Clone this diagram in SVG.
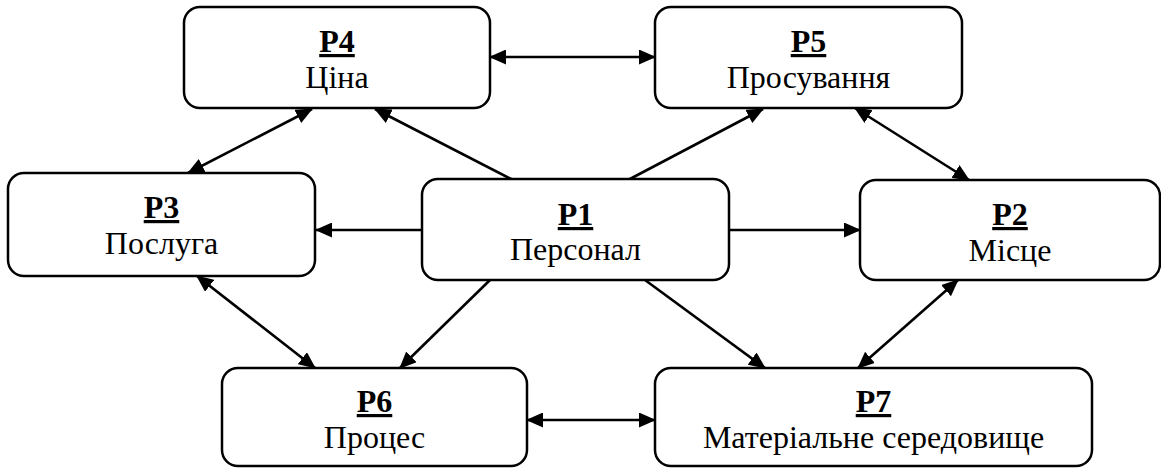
<svg xmlns="http://www.w3.org/2000/svg" width="1161" height="468" viewBox="0 0 1161 468">
  <style>
    .box { fill: #ffffff; stroke: #000000; stroke-width: 2.5; }
    .link { stroke: #000000; stroke-width: 2.6; fill: none; }
    .one { marker-end: url(#head); }
    .two { marker-start: url(#head); marker-end: url(#head); }
  </style>
  <defs>
    <marker id="head" markerUnits="userSpaceOnUse" markerWidth="17" markerHeight="15" refX="16" refY="7.5" orient="auto-start-reverse">
      <path d="M0,0 L17,7.5 L0,15 Z" fill="#000"/>
    </marker>
  </defs>
  <rect width="1161" height="468" fill="#ffffff"/>

  <!-- connectors: single-headed and double-headed arrows -->
  <g id="connectors">
    <line class="link two" x1="490" y1="57" x2="655" y2="57"/>
    <line class="link two" x1="188" y1="173" x2="312" y2="109"/>
    <line class="link one" x1="513" y1="180" x2="375" y2="109"/>
    <line class="link one" x1="628" y1="180" x2="763" y2="109"/>
    <line class="link two" x1="855" y1="108" x2="969" y2="180"/>
    <line class="link one" x1="422" y1="230" x2="316" y2="230"/>
    <line class="link one" x1="729" y1="230" x2="860" y2="230"/>
    <line class="link two" x1="197" y1="276" x2="315" y2="368"/>
    <line class="link one" x1="490" y1="280" x2="400" y2="368"/>
    <line class="link one" x1="645" y1="280" x2="765" y2="368"/>
    <line class="link two" x1="958" y1="280" x2="858" y2="368"/>
    <line class="link two" x1="527" y1="420" x2="655" y2="420"/>
  </g>

  <g id="p4">
    <rect class="box" x="184" y="7" width="306" height="101" rx="16"/>
    <text x="337" y="52" font-family="Liberation Serif, Times New Roman, DejaVu Serif, serif" font-size="32" font-weight="bold" text-decoration="underline" text-anchor="middle">P4</text>
    <text x="337" y="88" font-family="Liberation Serif, Times New Roman, DejaVu Serif, serif" font-size="32" text-anchor="middle">Ціна</text>
  </g>
  <g id="p5">
    <rect class="box" x="655" y="7" width="307" height="101" rx="16"/>
    <text x="808.5" y="52" font-family="Liberation Serif, Times New Roman, DejaVu Serif, serif" font-size="32" font-weight="bold" text-decoration="underline" text-anchor="middle">P5</text>
    <text x="808.5" y="88" font-family="Liberation Serif, Times New Roman, DejaVu Serif, serif" font-size="32" text-anchor="middle">Просування</text>
  </g>
  <g id="p3">
    <rect class="box" x="8" y="173" width="307" height="103" rx="16"/>
    <text x="161.5" y="218" font-family="Liberation Serif, Times New Roman, DejaVu Serif, serif" font-size="32" font-weight="bold" text-decoration="underline" text-anchor="middle">P3</text>
    <text x="161.5" y="254" font-family="Liberation Serif, Times New Roman, DejaVu Serif, serif" font-size="32" text-anchor="middle">Послуга</text>
  </g>
  <g id="p1">
    <rect class="box" x="422" y="179" width="307" height="101" rx="16"/>
    <text x="575.5" y="225" font-family="Liberation Serif, Times New Roman, DejaVu Serif, serif" font-size="32" font-weight="bold" text-decoration="underline" text-anchor="middle">P1</text>
    <text x="575.5" y="260" font-family="Liberation Serif, Times New Roman, DejaVu Serif, serif" font-size="32" text-anchor="middle">Персонал</text>
  </g>
  <g id="p2">
    <rect class="box" x="860" y="180" width="300" height="100" rx="16"/>
    <text x="1010" y="225" font-family="Liberation Serif, Times New Roman, DejaVu Serif, serif" font-size="32" font-weight="bold" text-decoration="underline" text-anchor="middle">P2</text>
    <text x="1010" y="261" font-family="Liberation Serif, Times New Roman, DejaVu Serif, serif" font-size="32" text-anchor="middle">Місце</text>
  </g>
  <g id="p6">
    <rect class="box" x="222" y="368" width="305" height="98" rx="16"/>
    <text x="374.5" y="412" font-family="Liberation Serif, Times New Roman, DejaVu Serif, serif" font-size="32" font-weight="bold" text-decoration="underline" text-anchor="middle">P6</text>
    <text x="374.5" y="448" font-family="Liberation Serif, Times New Roman, DejaVu Serif, serif" font-size="32" text-anchor="middle">Процес</text>
  </g>
  <g id="p7">
    <rect class="box" x="655" y="368" width="437" height="98" rx="16"/>
    <text x="873.5" y="412" font-family="Liberation Serif, Times New Roman, DejaVu Serif, serif" font-size="32" font-weight="bold" text-decoration="underline" text-anchor="middle">P7</text>
    <text x="873.5" y="448" font-family="Liberation Serif, Times New Roman, DejaVu Serif, serif" font-size="32" text-anchor="middle">Матеріальне середовище</text>
  </g>
</svg>
